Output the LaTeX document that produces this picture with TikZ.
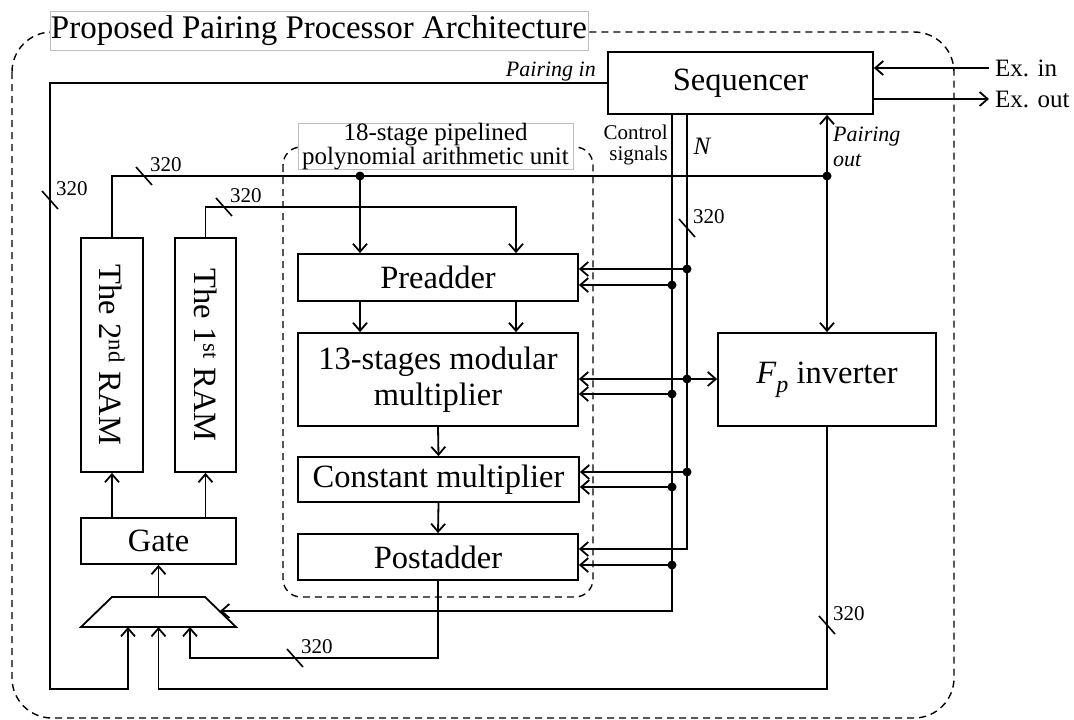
\documentclass[tikz,border=0pt]{standalone}
\usepackage{fontspec}
\setmainfont{Liberation Serif}
\usetikzlibrary{calc,positioning,arrows.meta}
\tikzset{
  blk/.style={draw,line width=1.8pt,inner sep=0pt,align=center,font=\fontsize{32.5}{36}\selectfont},
  wire/.style={line width=1.8pt},
  frame/.style={line width=1.4pt,dash pattern=on 7pt off 5pt},
  tag/.style={draw=black!25,line width=0.6pt,fill=white,inner sep=0pt,align=center},
  small/.style={font=\fontsize{21}{21}\selectfont,inner sep=1pt},
  ital/.style={font=\fontsize{22}{25}\selectfont\itshape,inner sep=1pt},
  slash/.style={line width=1.6pt},
  >={Straight Barb[length=8pt,width=14pt]},
}
\newcommand{\bwid}[2]{%
  \draw[slash] ($(#1)+(-8,-9)$) -- ($(#1)+(8,9)$);
  \node[small,anchor=south west] (#2) at ($(#1)+(5,-3)$) {320};}

\begin{document}
\begin{tikzpicture}[x=1pt,y=-1pt]
  \useasboundingbox (0,0) rectangle (1074,720);
  % frames
  \draw[frame,rounded corners=40pt] (12,32) rectangle (954,718);
  \draw[frame,rounded corners=18pt] (283,147) rectangle (593,597);
  \node[tag,minimum width=538pt,minimum height=39pt,font=\fontsize{33}{36}\selectfont] (ttl) at (319,30.5) {Proposed Pairing Processor Architecture};
  \node[tag,minimum width=275pt,minimum height=45pt,font=\fontsize{25}{22}\selectfont] (pau) at (435.5,146.5) {18-stage pipelined\\polynomial arithmetic unit};

  % blocks
  \node[blk,minimum width=265pt,minimum height=62pt] (seq) at (740.5,83) {Sequencer};
  \node[blk,minimum width=280pt,minimum height=47pt] (pre) at (438,277.5) {Preadder};
  \node[blk,minimum width=280pt,minimum height=93pt] (mul) at (438,379.5) {13-stages modular\\multiplier};
  \node[blk,minimum width=281pt,minimum height=45pt] (cst) at (438.5,479.5) {Constant multiplier};
  \node[blk,minimum width=280pt,minimum height=46pt] (pst) at (438,557) {Postadder};
  \node[blk,minimum width=218pt,minimum height=93pt] (inv) at (827,379.5) {\textit{F}\raisebox{-0.28em}{\fontsize{24}{24}\selectfont\textit{p}} inverter};
  \node[blk,minimum width=62pt,minimum height=234pt] (ramB) at (112,355) {};
  \node[blk,minimum width=61pt,minimum height=234pt] (ramA) at (205.5,355) {};
  \node[blk,draw=none,rotate=-90] (ramBt) at (ramB) {The 2\textsuperscript{nd} RAM};
  \node[blk,draw=none,rotate=-90] (ramAt) at (ramA) {The 1\textsuperscript{st} RAM};
  \node[blk,minimum width=155pt,minimum height=46pt] (gate) at (158.5,541) {Gate};

  % mux
  \coordinate (muxTL) at (112,597);
  \coordinate (muxTR) at (205,597);
  \coordinate (muxBR) at (236,627);
  \coordinate (muxBL) at (81,627);
  \draw[wire,line join=miter] (muxTL) -- (muxTR) -- (muxBR) -- (muxBL) -- cycle;
  \coordinate (muxT) at (gate.south |- 0,597);
  \coordinate (m1) at (128,627);
  \coordinate (m2) at (gate.south |- 0,627);
  \coordinate (m3) at (190,627);
  \coordinate (mxR) at (220,611);

  % texts
  \node[ital,anchor=base east] (pin) at (597,76) {Pairing in};
  \node[ital,anchor=north west,align=left] (pot) at (832,126) {Pairing\\out};
  \node[small,align=right,anchor=north east] (csig) at (669,124) {Control\\signals};
  \node[font=\fontsize{25}{28}\selectfont\itshape] (nbus) at (702,146) {N};
  \node[anchor=west,font=\fontsize{25}{28}\selectfont,inner xsep=6pt] (exin) at (989,68) {Ex. in};
  \node[anchor=west,font=\fontsize{25}{28}\selectfont,inner xsep=6pt] (exout) at (989,99) {Ex. out};

  % sequencer i/o
  \draw[wire,->] (exin.west) -- (exin.west -| seq.east);
  \draw[wire,->] (seq.east |- exout) -- (exout.west);
  \coordinate (lpA) at (50,689);
  \coordinate (lpB) at (gate.south |- 0,689);
  \coordinate (lpC) at (190,658);
  \draw[wire,->] (seq.west) -| (lpA) -| (m1);
  \draw[wire,->] (inv.south) |- (lpB) -- (m2);
  \draw[wire,->] (pst.south) |- (lpC) -- (m3);
  \draw[wire,->] (muxT) -- (gate.south);
  \draw[wire,->] (gate.north -| ramB.south) -- (ramB.south);
  \draw[wire,->] (gate.north -| ramA.south) -- (ramA.south);

  % RAM outputs
  \coordinate (pout) at (827,176);
  \coordinate (tap) at (360,176);
  \coordinate (tapR) at (516,207);
  \draw[wire] (ramB.north) |- (pout);
  \draw[wire,->] (tap) -- (tap |- pre.north);
  \draw[wire,->] (ramA.north) |- (tapR) -- (tapR |- pre.north);
  \draw[wire,->] (pre.south -| tap) -- (mul.north -| tap);
  \draw[wire,->] (pre.south -| tapR) -- (mul.north -| tapR);
  \draw[wire,->] (mul.south) -- (cst.north);
  \draw[wire,->] (cst.south) -- (pst.north);
  \draw[wire,->] (pout) -- (pout |- seq.south);
  \draw[wire,->] (pout) -- (inv.north);
  \fill (tap) circle (4.5pt);
  \fill (pout) circle (4.5pt);

  % control and N buses
  \coordinate (ctl) at (seq.south -| 672,0);
  \coordinate (bus) at (seq.south -| 687,0);
  \draw[wire,->] (bus) |- (pst.east |- 0,549);
  \draw[wire,->] (ctl) |- (mxR);
  \foreach \n/\a/\b in {pre/269/285, mul/379/394, cst/472/487} {
    \draw[wire,->] (bus |- 0,\a) -- (\n.east |- 0,\a);
    \draw[wire,->] (ctl |- 0,\b) -- (\n.east |- 0,\b);
    \fill (bus |- 0,\a) circle (4.5pt);
    \fill (ctl |- 0,\b) circle (4.5pt);
  }
  \draw[wire,->] (ctl |- 0,565) -- (pst.east |- 0,565);
  \fill (ctl |- 0,565) circle (4.5pt);
  \draw[wire,->] (bus |- 0,379) -- (inv.west |- 0,379);

  % bus widths
  \coordinate (s1) at (50,200);
  \coordinate (s2) at (144,176);
  \coordinate (s3) at (224,207);
  \coordinate (s4) at (687,228);
  \coordinate (s5) at (295,658);
  \coordinate (s6) at (827,625);
  \bwid{s1}{w1}\bwid{s2}{w2}\bwid{s3}{w3}
  \bwid{s4}{w4}\bwid{s5}{w5}\bwid{s6}{w6}
\end{tikzpicture}
\end{document}
